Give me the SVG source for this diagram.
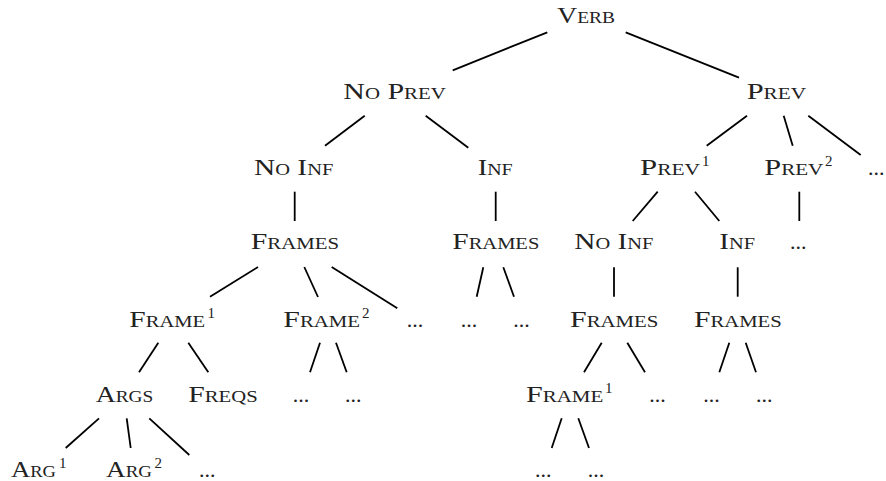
<svg xmlns="http://www.w3.org/2000/svg" width="886" height="481" viewBox="0 0 886 481">
<style>
.l{fill:#222;font-family:"Liberation Serif","Times New Roman",serif;font-size:23px;font-variant:small-caps}
.d{fill:#222;font-family:"Liberation Serif","Times New Roman",serif;font-size:22px}
.s{fill:#222;font-family:"Liberation Serif","Times New Roman",serif;font-size:15px}
#edges line{stroke:#000;stroke-width:1.8;stroke-linecap:butt}
</style>
<rect width="886" height="481" fill="#fff"/>
<g id="edges">
<line x1="547.3" y1="32.3" x2="452.7" y2="70.3"/>
<line x1="625.7" y1="32.3" x2="739" y2="77.7"/>
<line x1="364.7" y1="115.7" x2="325" y2="145.7"/>
<line x1="425.7" y1="115.7" x2="468.3" y2="147.7"/>
<line x1="747" y1="115.7" x2="706.7" y2="145.7"/>
<line x1="783.7" y1="115.7" x2="792.7" y2="145.7"/>
<line x1="808.3" y1="115.7" x2="860.7" y2="155"/>
<line x1="294.7" y1="191.7" x2="294.7" y2="221"/>
<line x1="495.7" y1="191.7" x2="495.7" y2="221"/>
<line x1="657.7" y1="191.7" x2="632.7" y2="221"/>
<line x1="695" y1="191.7" x2="719.3" y2="221"/>
<line x1="799.3" y1="191.7" x2="799.3" y2="221"/>
<line x1="258" y1="267" x2="210" y2="296.7"/>
<line x1="304.3" y1="267" x2="318" y2="297"/>
<line x1="331.7" y1="267" x2="397.3" y2="308.3"/>
<line x1="483.3" y1="267.3" x2="476.7" y2="296.7"/>
<line x1="503.3" y1="267.3" x2="514" y2="296.7"/>
<line x1="614" y1="267.3" x2="614" y2="296.7"/>
<line x1="737.7" y1="267.3" x2="737.7" y2="296.7"/>
<line x1="158.3" y1="342.7" x2="139" y2="372.3"/>
<line x1="188.3" y1="342.7" x2="208.3" y2="372.3"/>
<line x1="320" y1="342.7" x2="310" y2="372.3"/>
<line x1="336" y1="342.7" x2="346.7" y2="372.3"/>
<line x1="601.7" y1="342.7" x2="584" y2="372.3"/>
<line x1="627.3" y1="342.7" x2="645" y2="372.3"/>
<line x1="729.3" y1="342.7" x2="719.3" y2="372.3"/>
<line x1="745.7" y1="342.7" x2="756" y2="372.3"/>
<line x1="99" y1="418.3" x2="65.7" y2="448"/>
<line x1="126.7" y1="418.3" x2="130.7" y2="448"/>
<line x1="149.3" y1="418.3" x2="189.3" y2="455"/>
<line x1="561.7" y1="418.3" x2="551.7" y2="448"/>
<line x1="578.3" y1="418.3" x2="589" y2="448"/>
</g>
<g id="verb"><text class="l" x="557" y="23" textLength="58" lengthAdjust="spacingAndGlyphs">Verb</text></g>
<g id="noprev"><text class="l" x="343.3" y="99" textLength="102.4" lengthAdjust="spacingAndGlyphs">No Prev</text></g>
<g id="prev"><text class="l" x="746.7" y="99" textLength="59.3" lengthAdjust="spacingAndGlyphs">Prev</text></g>
<g id="noinf1"><text class="l" x="254" y="175" textLength="79.3" lengthAdjust="spacingAndGlyphs">No Inf</text></g>
<g id="inf1"><text class="l" x="477.7" y="175" textLength="35" lengthAdjust="spacingAndGlyphs">Inf</text></g>
<g id="prev1"><text class="l" x="640" y="175" textLength="60" lengthAdjust="spacingAndGlyphs">Prev</text><text class="s" x="702" y="166">1</text></g>
<g id="prev2"><text class="l" x="764.3" y="175" textLength="59" lengthAdjust="spacingAndGlyphs">Prev</text><text class="s" x="825" y="166">2</text></g>
<g id="prevmore"><text class="d" x="868" y="175">...</text></g>
<g id="frames1"><text class="l" x="250.7" y="249.3" textLength="88.3" lengthAdjust="spacingAndGlyphs">Frames</text></g>
<g id="frames2"><text class="l" x="452.3" y="249.3" textLength="87" lengthAdjust="spacingAndGlyphs">Frames</text></g>
<g id="noinf2"><text class="l" x="574.3" y="249.3" textLength="79" lengthAdjust="spacingAndGlyphs">No Inf</text></g>
<g id="inf2"><text class="l" x="719.3" y="249.3" textLength="35.7" lengthAdjust="spacingAndGlyphs">Inf</text></g>
<g id="prev2more"><text class="d" x="790" y="249.3">...</text></g>
<g id="frame1a"><text class="l" x="129.3" y="326.7" textLength="75.7" lengthAdjust="spacingAndGlyphs">Frame</text><text class="s" x="207.5" y="318">1</text></g>
<g id="frame2a"><text class="l" x="283.3" y="326.7" textLength="76.7" lengthAdjust="spacingAndGlyphs">Frame</text><text class="s" x="362" y="318">2</text></g>
<g id="framesmore"><text class="d" x="406.7" y="326.7">...</text></g>
<g id="inf1a"><text class="d" x="460.7" y="326.7">...</text></g>
<g id="inf1b"><text class="d" x="513.3" y="326.7">...</text></g>
<g id="frames3"><text class="l" x="570" y="326.7" textLength="88.3" lengthAdjust="spacingAndGlyphs">Frames</text></g>
<g id="frames4"><text class="l" x="694" y="326.7" textLength="87.7" lengthAdjust="spacingAndGlyphs">Frames</text></g>
<g id="args"><text class="l" x="95.7" y="401.7" textLength="57.6" lengthAdjust="spacingAndGlyphs">Args</text></g>
<g id="freqs"><text class="l" x="188.3" y="401.7" textLength="69.4" lengthAdjust="spacingAndGlyphs">Freqs</text></g>
<g id="f2a"><text class="d" x="292.7" y="401.7">...</text></g>
<g id="f2b"><text class="d" x="345" y="401.7">...</text></g>
<g id="frame1b"><text class="l" x="526" y="401.7" textLength="77.3" lengthAdjust="spacingAndGlyphs">Frame</text><text class="s" x="605" y="393">1</text></g>
<g id="f3more"><text class="d" x="649.3" y="401.7">...</text></g>
<g id="f4a"><text class="d" x="703.3" y="401.7">...</text></g>
<g id="f4b"><text class="d" x="756" y="401.7">...</text></g>
<g id="arg1"><text class="l" x="11" y="476.7" textLength="45" lengthAdjust="spacingAndGlyphs">Arg</text><text class="s" x="59" y="468">1</text></g>
<g id="arg2"><text class="l" x="106" y="476.7" textLength="46" lengthAdjust="spacingAndGlyphs">Arg</text><text class="s" x="154.5" y="468">2</text></g>
<g id="argmore"><text class="d" x="199" y="476.7">...</text></g>
<g id="fr1a"><text class="d" x="535" y="476.7">...</text></g>
<g id="fr1b"><text class="d" x="587.7" y="476.7">...</text></g>
</svg>
